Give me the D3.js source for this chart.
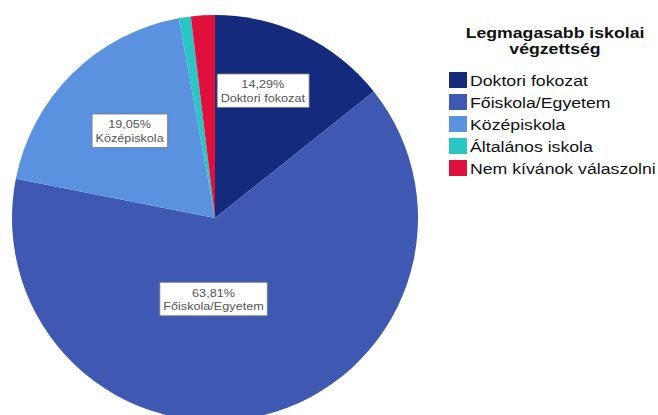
<!DOCTYPE html>
<html>
<head>
<meta charset="utf-8">
<script src="https://cdn.jsdelivr.net/npm/d3@7"></script>
<style>
  body { margin: 0; background: #fff; }
  text { font-family: "Liberation Sans", Arial, sans-serif; }
</style>
</head>
<body>
<div id="chart"></div>
<script>
// data
var categories = ["Doktori fokozat", "Főiskola/Egyetem", "Középiskola", "Általános iskola", "Nem kívánok válaszolni"];
var percents = [14.29, 63.81, 19.05, 0.95, 1.90];
var colors = ["#142a7c", "#3f58b1", "#5a92df", "#2bc5c3", "#e0103c"];
var legendTitle = ["Legmagasabb iskolai", "végzettség"];
var labelled = [true, true, true, false, false];

var width = 658, height = 415;
var cx = 215, cy = 218, r = 203;
var sx = 1.15; // text in the original is a little stretched sideways

// label nudges (px), as in the source chart
var labelNudge = [[-9, -10], [-16, 21], [4, 3], [0, 0], [0, 0]];

var svg = d3.select('#chart').append('svg')
	.attr('width', width)
	.attr('height', height);

var pie = d3.pie().sort(null).value(function(d){ return d; });
var arcs = pie(percents);

var arc = d3.arc().innerRadius(0).outerRadius(r);

var g = svg.append('g').attr('transform', 'translate(' + cx + ',' + cy + ')');

g.selectAll('path.slice')
	.data(arcs)
	.enter().append('path')
	.attr('class', 'slice')
	.attr('d', arc)
	.style('fill', function(d, i){ return colors[i]; });

// labels at the centroid of each sector
function centroid(d) {
	var half = (d.endAngle - d.startAngle) / 2,
		mid = d.startAngle + half,
		dist = 2 * r * Math.sin(half) / (3 * half);
	return [dist * Math.sin(mid), -dist * Math.cos(mid)];
}

var fmt = function(v){ return v.toFixed(2).replace('.', ',') + '%'; };

arcs.forEach(function(d, i) {
	if (!labelled[i]) return;
	var c = centroid(d);
	var lg = g.append('g')
		.attr('transform', 'translate(' + (c[0] + labelNudge[i][0]) + ',' + (c[1] + labelNudge[i][1]) + ') scale(' + sx + ',1)');
	var t = lg.append('text')
		.attr('text-anchor', 'middle')
		.style('font-size', '11px')
		.style('fill', '#555');
	t.append('tspan').attr('x', 0).attr('y', -2).text(fmt(percents[i]));
	t.append('tspan').attr('x', 0).attr('y', 11.5).text(categories[i]);
	var bb = t.node().getBBox();
	lg.insert('rect', 'text')
		.attr('x', bb.x - 3)
		.attr('y', bb.y - 4)
		.attr('width', bb.width + 6)
		.attr('height', bb.height + 7)
		.style('fill', 'white')
		.style('stroke', '#777')
		.attr('vector-effect', 'non-scaling-stroke')
		.style('stroke-width', 0.8);
});

// legend
var leg = svg.append('g');
leg.selectAll('text.title')
	.data(legendTitle)
	.enter().append('text')
	.attr('class', 'title')
	.attr('transform', function(d, i){ return 'translate(555,' + (38 + i * 16) + ') scale(1.22,1)'; })
	.attr('text-anchor', 'middle')
	.style('font-size', '14.5px')
	.style('font-weight', 'bold')
	.style('fill', '#111')
	.text(function(d){ return d; });

var items = leg.selectAll('g.item')
	.data(categories)
	.enter().append('g')
	.attr('class', 'item')
	.attr('transform', function(d, i){ return 'translate(449,' + (72 + i * 22) + ')'; });

items.append('rect')
	.attr('width', 18)
	.attr('height', 16)
	.style('fill', function(d, i){ return colors[i]; });

items.append('text')
	.attr('transform', 'translate(21,13.5) scale(1.18,1)')
	.style('font-size', '15px')
	.style('fill', '#111')
	.text(function(d){ return d; });
</script>
</body>
</html>
